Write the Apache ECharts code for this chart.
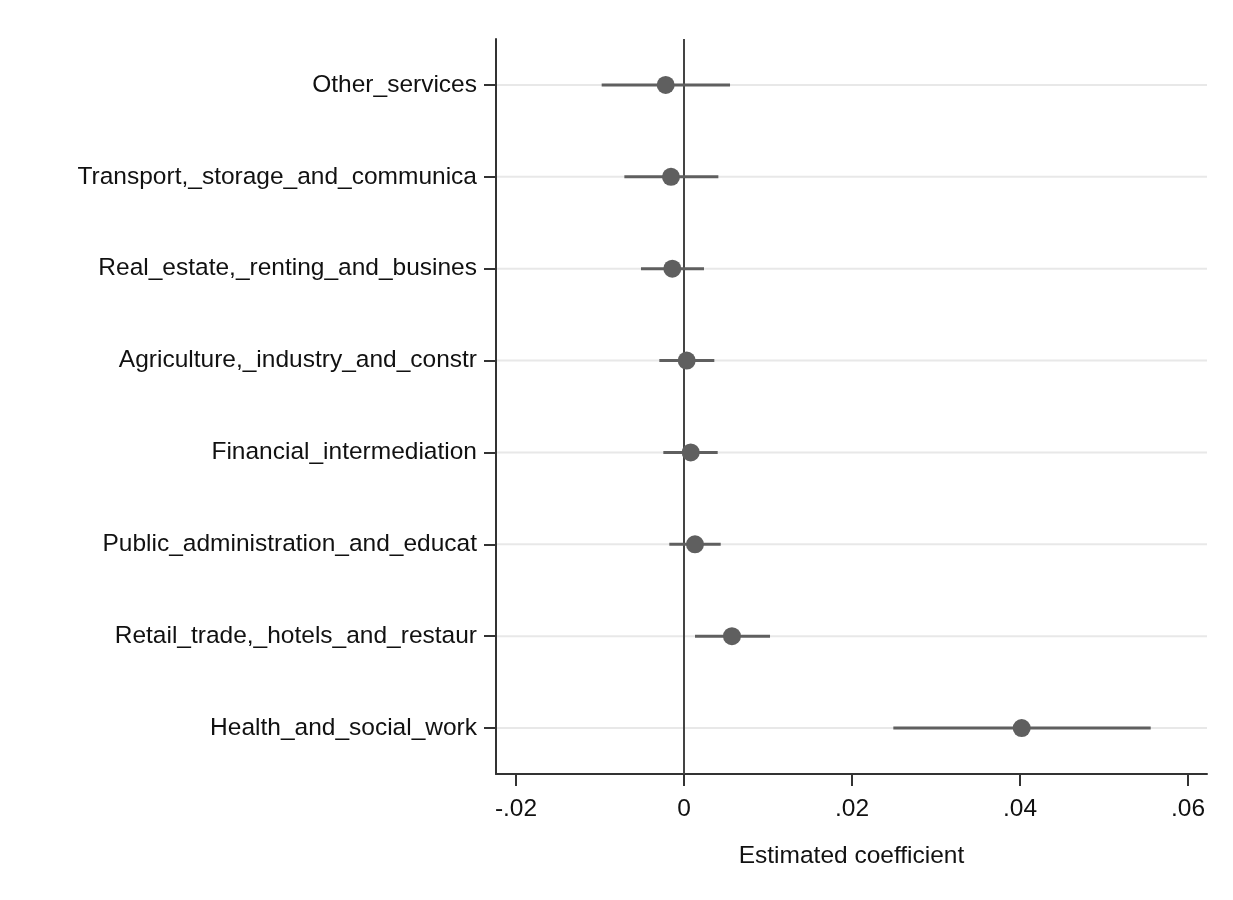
<!DOCTYPE html>
<html>
<head>
<meta charset="utf-8">
<script src="https://cdn.jsdelivr.net/npm/echarts@6/dist/echarts.min.js"></script>
<style>html,body{margin:0;padding:0;background:#fff;}#c{width:1233px;height:900px;}</style>
</head>
<body>
<div id="c"></div>
<script>
// Categories listed bottom to top
const categories = [
  'Health_and_social_work',
  'Retail_trade,_hotels_and_restaur',
  'Public_administration_and_educat',
  'Financial_intermediation',
  'Agriculture,_industry_and_constr',
  'Real_estate,_renting_and_busines',
  'Transport,_storage_and_communica',
  'Other_services'
];
const estimates = [0.0402, 0.00571, 0.00131, 0.0008, 0.00032, -0.00139, -0.00155, -0.00218];
const ciLow     = [0.02492, 0.00131, -0.00175, -0.00246, -0.00294, -0.00512, -0.0071, -0.0098];
const ciHigh    = [0.05556, 0.01024, 0.00437, 0.00401, 0.00361, 0.00238, 0.00409, 0.00548];
const xTicks = [-0.02, 0, 0.02, 0.04, 0.06];
const xMin = -0.02238, xMax = 0.06226;

const fmt = v => {
  if (Math.abs(v) < 1e-12) return '0';
  let s = (Math.round(v * 100) / 100).toString();
  return s.replace('0.', '.');
};

const chart = echarts.init(document.getElementById('c'));
const FONT = 'Liberation Sans, Arial, sans-serif';
chart.setOption({
  animation: false,
  backgroundColor: '#fff',
  grid: { left: 496, right: 26, top: 39, bottom: 126 },
  xAxis: {
    type: 'value', min: xMin, max: xMax,
    axisLine: { show: true, onZero: false, lineStyle: { color: '#333', width: 2 } },
    axisTick: { show: true, customValues: xTicks, length: 12, lineStyle: { color: '#333', width: 2 } },
    axisLabel: { customValues: xTicks, formatter: fmt, color: '#111', fontSize: 24.5, fontFamily: FONT, margin: 23 },
    splitLine: { show: false },
    name: 'Estimated coefficient', nameLocation: 'middle', nameGap: 70,
    nameTextStyle: { color: '#111', fontSize: 24.5, fontFamily: FONT }
  },
  yAxis: {
    type: 'category', data: categories,
    axisLine: { show: true, onZero: false, lineStyle: { color: '#333', width: 2 } },
    axisTick: { show: true, alignWithLabel: true, length: 12, lineStyle: { color: '#333', width: 2 } },
    axisLabel: { color: '#111', fontSize: 24.5, fontFamily: FONT, margin: 19, padding: [4, 0, 0, 0] },
    splitLine: { show: false }
  },
  series: [
    {
      type: 'custom', z: 1, silent: true,
      data: categories.map((c, i) => [i]),
      renderItem: (params, api) => {
        const i = api.value(0);
        const a = api.coord([xMin, i]);
        const b = api.coord([xMax, i]);
        return { type: 'line', shape: { x1: a[0] + 1, y1: a[1], x2: b[0], y2: b[1] },
                 style: { stroke: '#e8e8e8', lineWidth: 2 } };
      },
      markLine: {
        silent: true, symbol: 'none', z: 2, label: { show: false },
        lineStyle: { color: '#444', width: 2, type: 'solid' },
        data: [{ xAxis: 0 }]
      }
    },
    {
      type: 'custom', z: 3, silent: true,
      data: categories.map((c, i) => [i, ciLow[i], ciHigh[i]]),
      renderItem: (params, api) => {
        const i = api.value(0);
        const a = api.coord([api.value(1), i]);
        const b = api.coord([api.value(2), i]);
        return { type: 'line', shape: { x1: a[0], y1: a[1], x2: b[0], y2: b[1] },
                 style: { stroke: '#5f5f5f', lineWidth: 3 } };
      }
    },
    {
      type: 'scatter', z: 4,
      data: categories.map((c, i) => [estimates[i], c]),
      symbol: 'circle', symbolSize: 18,
      itemStyle: { color: '#5f5f5f', opacity: 1 }
    }
  ]
});
</script>
</body>
</html>
